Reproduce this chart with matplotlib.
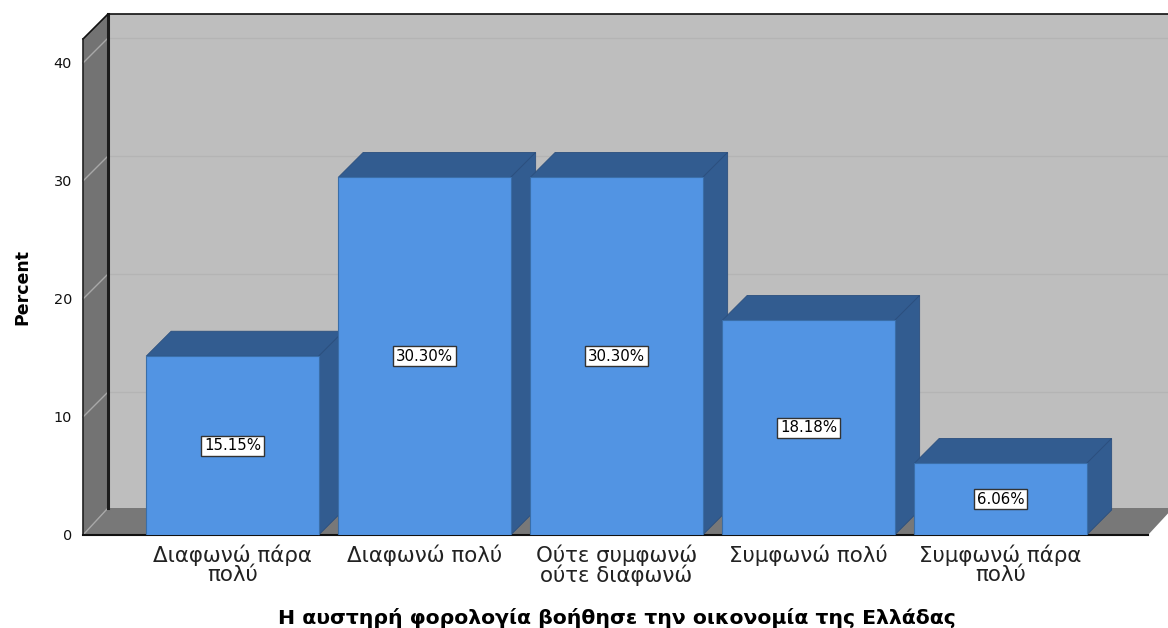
import matplotlib
matplotlib.use("Agg")
import matplotlib.pyplot as plt
from matplotlib.patches import Polygon

categories = ["Διαφωνώ πάρα\nπολύ", "Διαφωνώ πολύ", "Ούτε συμφωνώ\nούτε διαφωνώ", "Συμφωνώ πολύ", "Συμφωνώ πάρα\nπολύ"]
percent = [15.15, 30.30, 30.30, 18.18, 6.06]
labels = ["15.15%", "30.30%", "30.30%", "18.18%", "6.06%"]
yticks = [0, 10, 20, 30, 40]

plt.rcParams['font.family'] = ['DejaVu Sans']

W, H = 1168, 628
fig = plt.figure(figsize=(W/100, H/100), dpi=100)
# axes = front plane of the 3d box, in pixels 83..1148 and 39..535
ax = fig.add_axes([83/W, 1-535/H, (1148-83)/W, (535-39)/H])

px_x = 192.0          # pixels per category
px_y = 11.8           # pixels per percent
ax.set_xlim((83-232.4)/px_x, (1148-232.4)/px_x)
ax.set_ylim(0, (535-39)/px_y)
dx = 25/px_x          # depth of the box
dy = 25/px_y
floor_dy = 27/px_y    # floor looks a bit deeper than the top
bdx = 25/px_x         # depth of the bars
bdy = 25/px_y
x0, x1 = ax.get_xlim()
y1 = ax.get_ylim()[1]

def poly(pts, fc, ec="none", lw=0, z=1):
    ax.add_patch(Polygon(pts, closed=True, fc=fc, ec=ec, lw=lw, zorder=z, clip_on=False))

# walls
poly([(x0+dx, floor_dy), (x1+dx, floor_dy), (x1+dx, y1+dy), (x0+dx, y1+dy)], "#bebebe")
poly([(x0, 0), (x0+dx, floor_dy), (x0+dx, y1+dy), (x0, y1)], "#737373")
poly([(x0, 0), (x1, 0), (x1+dx, floor_dy), (x0+dx, floor_dy)], "#787878")

# grid on the walls
for t in yticks[1:]:
    ax.plot([x0+dx, x1+dx], [t+dy, t+dy], color="#b4b4b4", lw=1, zorder=2, clip_on=False)
for t in yticks:
    ax.plot([x0, x0+dx], [t, t+(floor_dy if t == 0 else dy)], color="#a8a8a8", lw=1, zorder=2, clip_on=False)

# box edges
ax.plot([x0+dx, x0+dx], [floor_dy, y1+dy], color="#1c1c1c", lw=2.2, zorder=3, clip_on=False)
ax.plot([x0, x0+dx, x1+dx], [y1, y1+dy, y1+dy], color="#111111", lw=1.2, zorder=3, clip_on=False)
ax.plot([x0, x0], [0, y1], color="#222222", lw=1.2, zorder=3, clip_on=False)
ax.plot([x0, x1], [0, 0], color="#111111", lw=1.5, zorder=3, clip_on=False)

# bars
width = 172.5/px_x
xs = list(range(len(percent)))
ax.bar(xs, percent, width=width, color="#5294e3", edgecolor="#3a6ea8", linewidth=0.8, zorder=5)
for x, v in zip(xs, percent):
    l, r = x-width/2, x+width/2
    poly([(l, v), (r, v), (r+bdx, v+bdy), (l+bdx, v+bdy)], "#325c90", "#2b4f7e", 0.6, 4)
    poly([(r, 0), (r+bdx, bdy), (r+bdx, v+bdy), (r, v)], "#325c90", "#2b4f7e", 0.6, 4)

for x, v, s in zip(xs, percent, labels):
    ax.text(x, v/2, s, ha="center", va="center", fontsize=10.8, color="black", zorder=6,
            bbox=dict(boxstyle="square,pad=0.17", fc="white", ec="#333333", lw=1))

for s in ax.spines.values():
    s.set_visible(False)
ax.patch.set_visible(False)
ax.set_xticks(xs)
ax.set_xticklabels(categories, fontsize=15.4, color="#222222", linespacing=0.9)
ax.set_yticks(yticks)
ax.set_yticklabels([str(t) for t in yticks], fontsize=10.4, color="#111111")
ax.tick_params(axis="both", length=0)
ax.tick_params(axis="x", pad=7)
ax.tick_params(axis="y", pad=8)

fig.text(617/W, 1-618/H, "Η αυστηρή φορολογία βοήθησε την οικονομία της Ελλάδας", ha="center", va="center",
         fontsize=14.7, fontweight="bold", color="black")
fig.text(22/W, 1-287/H, "Percent", ha="center", va="center", rotation=90, fontsize=12.5, fontweight="bold", color="black")

fig.savefig("out.png", dpi=100, facecolor="white")
